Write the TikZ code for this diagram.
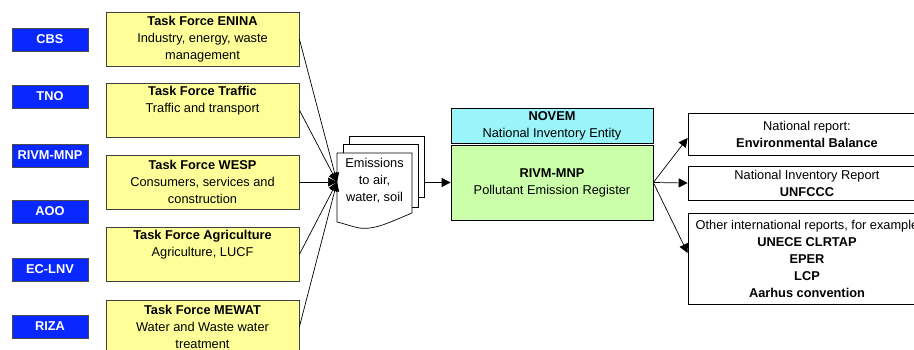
\documentclass[tikz,border=0pt]{standalone}
\usepackage{fontspec}
\setmainfont{Liberation Sans}
\usetikzlibrary{arrows.meta,positioning,calc}
\definecolor{orgblue}{RGB}{8,40,255}
\definecolor{tfyellow}{RGB}{255,255,153}
\definecolor{novcyan}{RGB}{153,245,250}
\definecolor{regreen}{RGB}{204,255,170}
\tikzset{box/.style={draw, rectangle, align=center, inner sep=2pt, font=\fontsize{12.8}{17}\selectfont}}
\tikzstyle{org}=[box, fill=orgblue, draw=black!70, text=white, font=\fontsize{12.8}{17}\selectfont\bfseries, minimum width=76pt, minimum height=23pt]
\tikzstyle{tf}=[box, fill=tfyellow, draw=black!75, minimum width=193pt, minimum height=54pt]
\tikzstyle{report}=[box, fill=white, minimum width=238pt]
\tikzstyle{page}=[draw, fill=white, rectangle, inner sep=0pt, minimum width=75pt]

\begin{document}
\begin{tikzpicture}[x=1pt, y=-1pt, line width=0.7pt, >={Triangle[length=9pt,width=9pt]}]
\useasboundingbox (0,0) rectangle (914,349);
% organisations
\node[org] (cbs) at (50,39.5) {CBS};
\node[org] (tno) at (50,96.5) {TNO};
\node[org] (rivmmnp) at (50,155.5) {RIVM-MNP};
\node[org] (aoo) at (50,211.5) {AOO};
\node[org] (eclnv) at (50,269.5) {EC-LNV};
\node[org] (riza) at (50,326.5) {RIZA};
% task forces
\node[tf] (enina) at (202.5,39) {\textbf{Task Force ENINA}\\Industry, energy, waste\\management};
\node[tf] (traffic) at (202.5,110) {\textbf{Task Force Traffic}\\Traffic and transport\\\strut};
\node[tf] (wesp) at (202.5,182) {\textbf{Task Force WESP}\\Consumers, services and\\construction};
\node[tf] (agri) at (202.5,254.5) {\textbf{Task Force Agriculture}\\Agriculture, LUCF\\\strut};
\node[tf] (mewat) at (202.5,327) {\textbf{Task Force MEWAT}\\Water and Waste water\\treatment};
% emissions document
\node[page, minimum height=61pt] (page3) at (386.5,166.5) {};
\node[page, minimum height=63pt] (page2) at (380.5,175.5) {};
\draw[fill=white] (337,153) -- (412,153) -- (412,213)
  .. controls (390,222) and (372,232) .. (355,227)
  .. controls (347,225) and (342,223) .. (337,222) -- cycle;
\node[align=center, font=\fontsize{12.8}{17}\selectfont] (emis) at (374.5,181) {Emissions\\to air,\\water, soil};
\coordinate (merge) at (337,182);
% register
\node[box, fill=novcyan, minimum width=202pt, minimum height=35pt] (novem) at (552,125.5) {\textbf{NOVEM}\\National Inventory Entity};
\node[box, fill=regreen, minimum width=202pt, minimum height=75pt] (register) at (552,182.5) {\textbf{RIVM-MNP}\\Pollutant Emission Register};
% reports
\node[report, minimum height=42pt] (rep1) at (807,134) {National report:\\\textbf{Environmental Balance}};
\node[report, minimum height=34pt] (rep2) at (807,183) {National Inventory Report\\\textbf{UNFCCC}};
\node[report, minimum height=91pt] (rep3) at (807,258.5) {Other international reports, for example\\\textbf{UNECE CLRTAP}\\\textbf{EPER}\\\textbf{LCP}\\\textbf{Aarhus convention}};

\path[->] (enina.east) edge (merge)
          (traffic.east) edge (merge)
          (wesp.east) edge (merge)
          (agri.east) edge (merge)
          (mewat.east) edge (merge);
\path[->] (page3.east |- register.west) edge (register.west);
\path[->] (register.east) edge ([yshift=-4pt]rep1.west)
          (register.east) edge (rep2.west)
          (register.east) edge ([yshift=5.5pt]rep3.west);
\end{tikzpicture}
\end{document}
